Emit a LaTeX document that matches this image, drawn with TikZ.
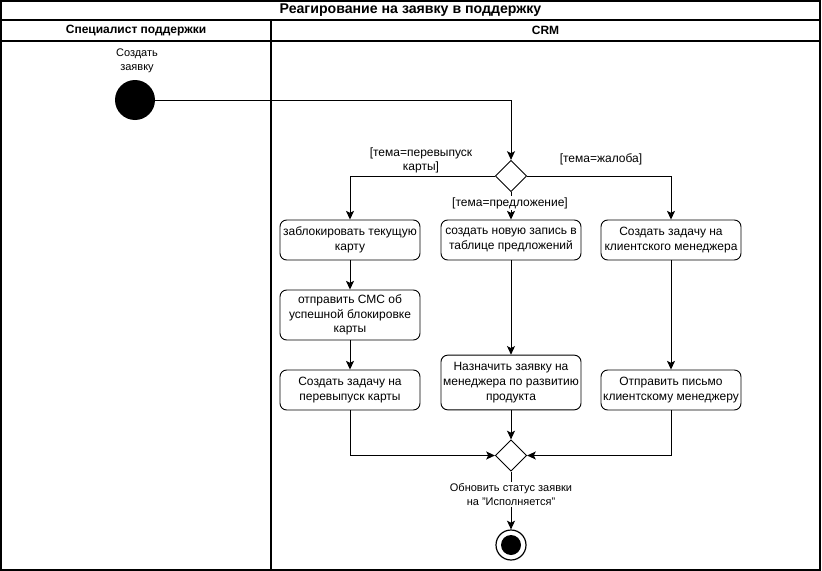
\documentclass[tikz,border=0pt]{standalone}
\usepackage{fontspec}
\setmainfont{Liberation Sans}
\usetikzlibrary{arrows.meta,shapes.geometric}
\begin{document}
\begin{tikzpicture}[x=0.75pt,y=-0.75pt,
  line width=0.7pt,
  font=\fontsize{9}{11}\selectfont,
  act/.style={draw, rounded corners=5pt, minimum width=105pt, minimum height=30pt, align=center, inner sep=1pt},
  dec/.style={draw, diamond, aspect=1, minimum size=23.5pt, inner sep=0pt},
  arr/.style={-{Stealth[length=6.5pt,width=6pt,inset=1.5pt]}},
  lbl/.style={align=center, inner sep=1pt},
  frame/.style={line width=1.1pt}]
\useasboundingbox (0,0) rectangle (822,571);
% frame
\draw[frame] (1,1) rectangle (820,570);
\draw[frame] (1,20) -- (820,20);
\draw[frame] (1,41) -- (820,41);
\draw[frame] (271,20) -- (271,570);
\node[font=\bfseries\fontsize{10.6}{12}\selectfont] (title) at (410.5,10.5) {Реагирование на заявку в поддержку};
\node[font=\bfseries\fontsize{9}{11}\selectfont] (lane1) at (136,30.5) {Специалист поддержки};
\node[font=\bfseries\fontsize{9}{11}\selectfont] (lane2) at (545.5,30.5) {CRM};
% start
\node[lbl, font=\fontsize{8.25}{10.5}\selectfont] (startlbl) at (137,60.5) {Создать\\заявку};
\node[circle, fill, minimum size=30pt, inner sep=0pt] (start) at (135,100) {};
% decision
\node[dec] (d1) at (511,176) {};
% boxes
\node[act] (a1) at (350,240) {заблокировать текущую\\карту};
\node[act, minimum height=37.5pt] (a2) at (350,315) {отправить СМС об\\успешной блокировке\\карты};
\node[act] (a3) at (350,390) {Создать задачу на\\перевыпуск карты};
\node[act] (b1) at (511,240) {создать новую запись в\\таблице предложений};
\node[act, minimum height=41pt] (b2) at (511,382.5) {Назначить заявку на\\менеджера по развитию\\продукта};
\node[act] (c1) at (671,240) {Создать задачу на\\клиентского менеджера};
\node[act] (c2) at (671,390) {Отправить письмо\\клиентскому менеджеру};
% merge
\node[dec] (d2) at (511,455.5) {};
% end
\node[circle, draw, line width=0.9pt, minimum size=22.5pt, inner sep=0pt] (endc) at (511,545) {};
\node[circle, fill, minimum size=15pt, inner sep=0pt] (endin) at (endc.center) {};
% edges
\draw[arr] (start.east) -| (d1.north);
\draw[arr] (d1.west) -| (a1.north);
\draw[arr] (d1.south) -- (b1.north);
\draw[arr] (d1.east) -| (c1.north);
\draw[arr] (a1) -- (a2);
\draw[arr] (a2) -- (a3);
\draw[arr] (b1) -- (b2);
\draw[arr] (c1) -- (c2);
\draw[arr] (a3.south) |- (d2.west);
\draw[arr] (b2.south) -- (d2.north);
\draw[arr] (c2.south) |- (d2.east);
\draw[arr] (d2.south) -- (endc.north);
% edge labels
\node[lbl] (l1) at (421,160.5) {[тема=перевыпуск\\карты]};
\node[lbl] (l2) at (601,159) {[тема=жалоба]};
\node[lbl, fill=white] (l3) at (510,203) {[тема=предложение]};
\node[lbl, fill=white, font=\fontsize{8.25}{11}\selectfont] (l4) at (511,494.5) {Обновить статус заявки\\на "Исполняется"};
\end{tikzpicture}
\end{document}
